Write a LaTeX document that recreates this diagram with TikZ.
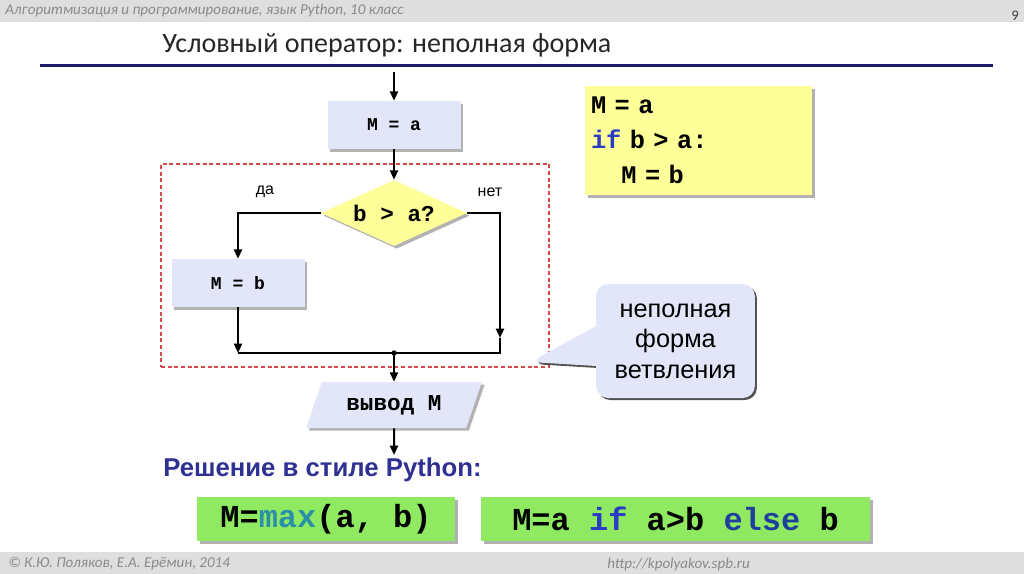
\documentclass[tikz,border=0pt]{standalone}
\usepackage{fontspec}
\setmainfont{Liberation Sans}
\newfontfamily\calibri{Carlito}
\newfontfamily\courier{Liberation Mono}
\usetikzlibrary{arrows.meta,shapes.geometric,shapes.callouts,shadows}
\definecolor{navy}{HTML}{1C1C6B}
\definecolor{bar}{HTML}{DEDEDE}
\definecolor{greytext}{HTML}{8A8A8A}
\definecolor{lav}{HTML}{E3E5F8}
\definecolor{yel}{HTML}{FFFF99}
\definecolor{grn}{HTML}{8FEA62}
\definecolor{redframe}{HTML}{D84848}
\definecolor{solc}{HTML}{2E3192}
\definecolor{kw}{HTML}{2B3CC4}
\definecolor{fn}{HTML}{2A8FA8}
\definecolor{kw2}{HTML}{1F3F9F}
\tikzset{
  arr/.style={line width=1.5pt,-{Triangle[length=7pt,width=6pt]}},
  ln/.style={line width=1.5pt},
  shd/.style={drop shadow={shadow xshift=2pt,shadow yshift=-2pt,opacity=0.3,fill=black}},
  blk/.style={shd,fill=lav,minimum width=99.75pt,minimum height=36pt,inner sep=0pt,
    font=\courier\bfseries\fontsize{13.5}{16}\selectfont},
  cnd/.style={shd,diamond,aspect=2.2,fill=yel,minimum width=109.5pt,minimum height=49.5pt,inner sep=0pt,
    font=\courier\bfseries\fontsize{17}{20}\selectfont},
  io/.style={shd,trapezium,trapezium left angle=62,trapezium right angle=118,trapezium stretches=true,
    fill=lav,minimum width=132pt,minimum height=34.5pt,inner sep=0pt,
    font=\courier\bfseries\fontsize{17}{20}\selectfont},
  lbl/.style={font=\fontsize{12}{14}\selectfont},
  hdr/.style={text=greytext,font=\calibri\itshape\fontsize{11.3}{14}\selectfont,inner sep=0pt},
  codebox/.style={shd,fill=yel,minimum width=170.25pt,minimum height=81.75pt,text width=161.25pt,
    align=left,inner sep=0pt,font=\courier\bfseries\fontsize{19}{26.25}\selectfont},
  solbox/.style={shd,fill=grn,minimum height=33pt,inner sep=0pt,
    font=\courier\bfseries\fontsize{24}{28}\selectfont},
  note/.style={rectangle callout,rounded corners=9pt,fill=lav,minimum width=119pt,minimum height=85.5pt,
    callout pointer width=30pt,align=center,inner sep=0pt,
    drop shadow={shadow xshift=1.5pt,shadow yshift=-1.5pt,opacity=0.85,fill=black!80},
    font=\fontsize{19}{23}\selectfont},
}

\begin{document}
\begin{tikzpicture}[x=0.75pt,y=-0.75pt]
  \useasboundingbox (0,0) rectangle (1024,574);
  % slide header and footer
  \fill[bar] (0,0) rectangle (1024,22);
  \fill[bar] (0,552) rectangle (1024,574);
  \node[hdr,anchor=west] (course) at (5,11) {Алгоритмизация и программирование, язык Python, 10 класс};
  \node[anchor=east,inner sep=0pt,font=\calibri\fontsize{11}{13}\selectfont,text=black!75] (page) at (1019,16) {9};
  \node[anchor=west,inner sep=0pt,font=\calibri\fontsize{21}{25}\selectfont,text=black!85] (title) at (162,45) {Условный оператор: неполная форма};
  \draw[navy,line width=2.25pt] (40,66) -- (993,66);
  \node[hdr,anchor=west] (authors) at (8,564) {© К.Ю. Поляков, Е.А. Ерёмин, 2014};
  \node[hdr,anchor=west] (site) at (607,564) {http://kpolyakov.spb.ru};

  % flowchart
  \node[draw=redframe,line width=1pt,dash pattern=on 3pt off 2pt,minimum width=291pt,minimum height=152.25pt] (frame) at (355,265.5) {};
  \coordinate (top) at (394,72);
  \node[blk] (ma) at (394,125) {M = a};
  \node[cnd] (cond) at (394,213) {b > a?};
  \node[blk] (mb) at (238,283) {M = b};
  \node[io] (out) at (394,405) {вывод M};
  \coordinate (join) at (394,353);
  \coordinate (nr) at (500,338);
  \coordinate (end) at (394,455);
  \node[lbl] (yes) at (265,192) {да};
  \node[lbl] (no) at (490,192) {нет};
  \draw[arr] (top) -- (ma);
  \draw[arr] (ma) -- (cond);
  \draw[arr] (cond.west) -| (mb.north);
  \draw[arr] (cond.east) -| (nr);
  \draw[ln] (nr) |- (join);
  \draw[arr] (mb.south) -- (mb.south |- join);
  \draw[ln] (mb.south |- join) -- (join);
  \fill (join) circle (2pt);
  \draw[arr] (join) -- (out);
  \draw[arr] (out) -- (end);

  % program and note
  \node[codebox] (code) at (698.5,140.5) {M = a\\\textcolor{kw}{if} b > a:\\\phantom{xx}M = b};
  \coordinate (tip) at (530,362);
  \node[note,callout absolute pointer={(tip)}] (remark) at (675.5,341) {неполная\\форма\\ветвления};

  % python style
  \node[anchor=west,inner sep=0pt,text=solc,font=\bfseries\fontsize{19.3}{23}\selectfont] (pystyle) at (163,470) {Решение в стиле Python:};
  \node[solbox,minimum width=193.5pt] (sol1) at (326,519) {M=\textcolor{fn}{max}(a, b)};
  \node[solbox,minimum width=291.75pt] (sol2) at (675.5,519) {M=a \textcolor{kw}{if} a>b \textcolor{kw2}{else} b};
\end{tikzpicture}
\end{document}
